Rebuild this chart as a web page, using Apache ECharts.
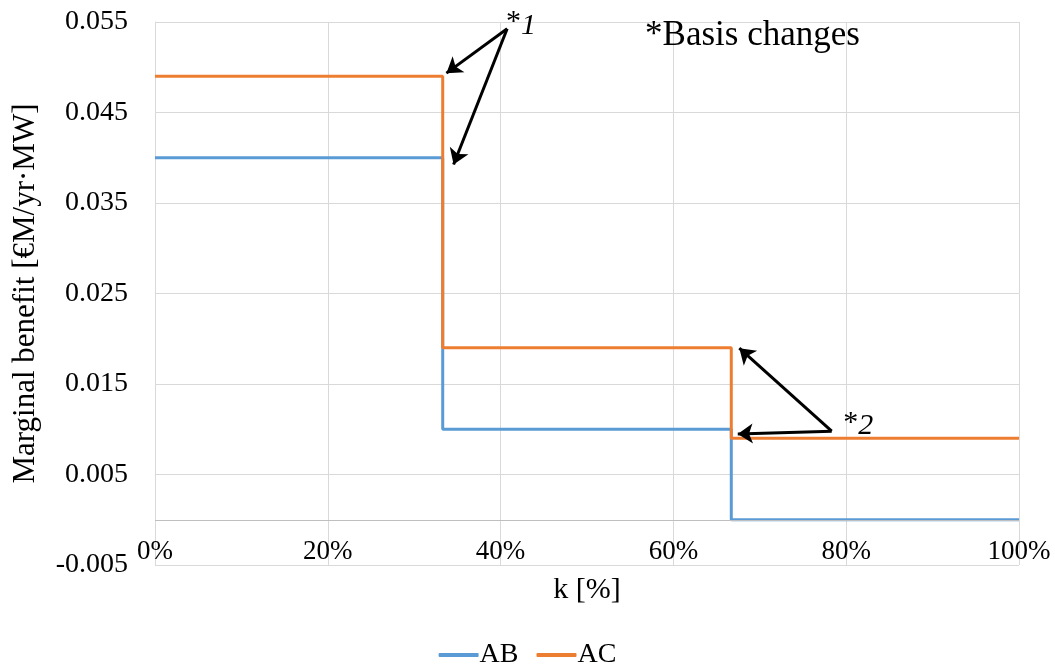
<!DOCTYPE html>
<html>
<head>
<meta charset="utf-8">
<script src="https://cdn.jsdelivr.net/npm/echarts@6/dist/echarts.min.js"></script>
<style>html,body{margin:0;padding:0;background:#fff}#c{width:1055px;height:666px}</style>
</head>
<body>
<div id="c"></div>
<script>
// k positions where the steps start (fraction of 100%)
const kSteps = [0, 0.333, 0.667, 1];
// Marginal benefit values [€M/yr·MW]
const AB = [0.040, 0.010, 0.000, 0.000];
const AC = [0.049, 0.019, 0.009, 0.009];
const seriesNames = ['AB', 'AC'];
const seriesColors = ['#5B9BD5', '#ED7D31'];
// y tick range
const yMin = -0.005, yMax = 0.055, yStep = 0.01;
// annotation arrows: [from, to] in data coords [k, value]
const arrows1 = [[[0.4076, 0.05426], [0.3373, 0.04935]], [[0.4076, 0.05426], [0.3456, 0.03926]]];
const arrows2 = [[[0.7832, 0.00979], [0.6763, 0.01896]], [[0.7832, 0.00979], [0.6745, 0.00947]]];
// annotation texts and their anchor points
const note1Pos = [0.4235, 0.0546];
const note2Pos = [0.8140, 0.0103];
const basisPos = [0.6915, 0.0535];

const FONT = 'Liberation Serif';
const pts = vals => kSteps.map((k, i) => [k, vals[i]]);

const arrowLines = arrows1.concat(arrows2).map(a => [{coord: a[0]}, {coord: a[1]}]);

const noteRich = {
  a: {fontSize: 30, fontFamily: FONT, color: '#000', padding: [0, 0, 6, 0]},
  b: {fontSize: 30, fontStyle: 'italic', fontFamily: FONT, color: '#000'}
};

const chart = echarts.init(document.getElementById('c'));
chart.setOption({
  animation: false,
  textStyle: {fontFamily: FONT, color: '#000'},
  grid: {left: 155, right: 36, top: 22, bottom: 101},
  legend: {
    data: seriesNames,
    top: 636, left: 'center',
    icon: 'roundRect', itemWidth: 40, itemHeight: 4, itemGap: 18,
    textStyle: {fontFamily: FONT, fontSize: 28, color: '#000', padding: [0, 0, 0, -4]}
  },
  xAxis: {
    type: 'value', min: 0, max: 1, interval: 0.2,
    name: 'k [%]', nameLocation: 'middle', nameGap: 10,
    nameTextStyle: {fontFamily: FONT, fontSize: 30, color: '#000', verticalAlign: 'top'},
    axisLine: {show: false, onZero: false},
    axisTick: {show: false},
    axisLabel: {inside: true, margin: 0, fontFamily: FONT, fontSize: 27, color: '#000',
      formatter: v => Math.round(v * 100) + '%'},
    splitLine: {show: true, lineStyle: {color: '#d9d9d9', width: 1}}
  },
  yAxis: {
    type: 'value', min: yMin, max: yMax, interval: yStep,
    name: 'Marginal benefit [€M/yr·MW]', nameLocation: 'middle', nameGap: 114,
    nameTextStyle: {fontFamily: FONT, fontSize: 31, color: '#000'},
    axisLine: {show: true, lineStyle: {color: '#d9d9d9', width: 1}},
    axisTick: {show: false},
    axisLabel: {margin: 27, fontFamily: FONT, fontSize: 28, color: '#000',
      formatter: v => v.toFixed(3)},
    splitLine: {show: true, lineStyle: {color: '#d9d9d9', width: 1}}
  },
  series: [
    {
      name: 'AB', type: 'line', step: 'end', data: pts(AB),
      showSymbol: false, lineStyle: {color: seriesColors[0], width: 3}, itemStyle: {color: seriesColors[0]},
      z: 3
    },
    {
      name: 'AC', type: 'line', step: 'end', data: pts(AC),
      showSymbol: false, lineStyle: {color: seriesColors[1], width: 3}, itemStyle: {color: seriesColors[1]},
      z: 4
    },
    {
      name: 'annotations', type: 'line', data: [], z: 5,
      markLine: {
        silent: true, symbol: ['none', 'arrow'], symbolSize: 15,
        lineStyle: {color: '#000', width: 3, type: 'solid'},
        label: {show: false},
        data: [
          [{coord: [0, 0], symbol: 'none', lineStyle: {color: '#bfbfbf', width: 1}}, {coord: [1, 0], symbol: 'none'}]
        ].concat(arrowLines)
      },
      markPoint: {
        silent: true, symbol: 'circle', symbolSize: 0,
        label: {show: true, position: 'inside', color: '#000', fontFamily: FONT},
        data: [
          {coord: note1Pos, label: {formatter: '{a|*}{b|1}', rich: noteRich}},
          {coord: note2Pos, label: {formatter: '{a|*}{b|2}', rich: noteRich}},
          {coord: basisPos, label: {formatter: '*Basis changes', fontSize: 35, fontFamily: FONT, color: '#000'}}
        ]
      }
    }
  ]
});
</script>
</body>
</html>
